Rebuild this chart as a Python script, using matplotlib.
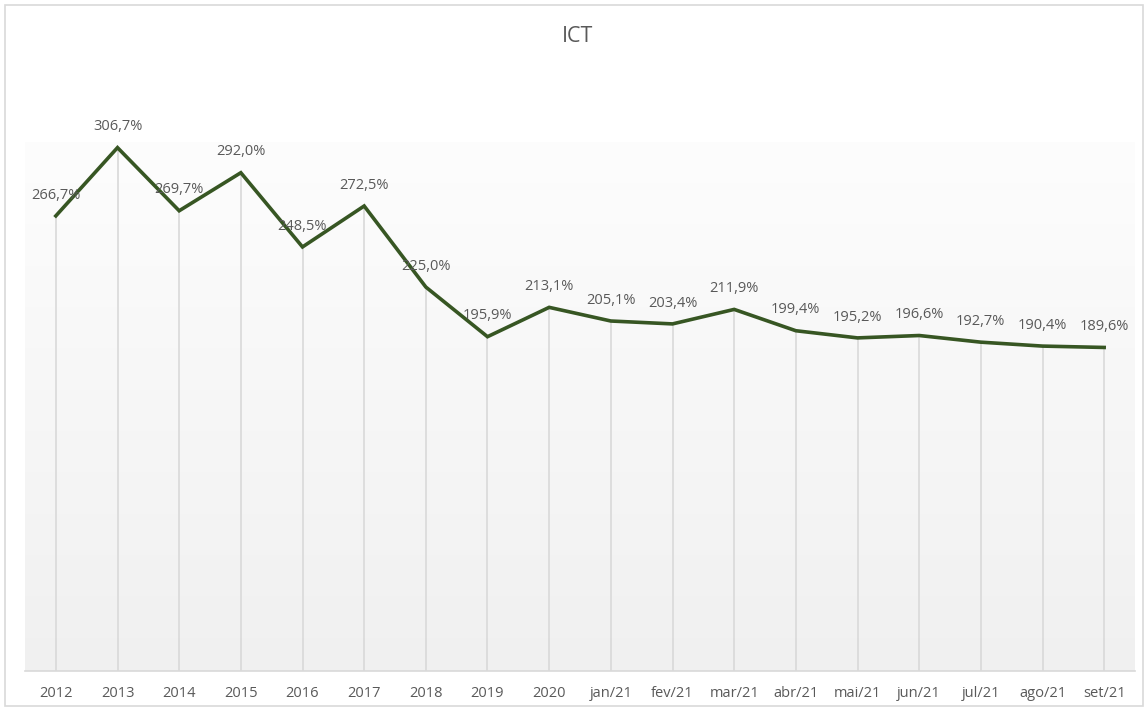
import matplotlib
matplotlib.use("Agg")
import matplotlib.pyplot as plt
import numpy as np
from matplotlib.patches import Rectangle

categories = ["2012", "2013", "2014", "2015", "2016", "2017", "2018", "2019", "2020",
              "jan/21", "fev/21", "mar/21", "abr/21", "mai/21", "jun/21", "jul/21",
              "ago/21", "set/21"]
values = [266.7, 306.7, 269.7, 292.0, 248.5, 272.5, 225.0, 195.9, 213.1,
          205.1, 203.4, 211.9, 199.4, 195.2, 196.6, 192.7, 190.4, 189.6]

plt.rcParams['font.family'] = ['Open Sans', 'DejaVu Sans']
txt = "#595959"

fig = plt.figure(figsize=(11.48, 7.11), dpi=100)
fig.patches.append(Rectangle((5/1148, 5/711), 1138/1148, 701/711, transform=fig.transFigure,
                             fill=False, edgecolor="#d9d9d9", linewidth=1.2))
ax = fig.add_axes([25/1148, 40/711, 1110/1148, 529/711])

n = len(categories)
x = np.arange(n)
ymax = 310
ax.set_xlim(-0.5, n - 0.5)
ax.set_ylim(0, ymax)

# gradient background
grad = np.linspace(0.992, 0.942, 256).reshape(-1, 1)
ax.imshow(np.dstack([grad, grad, grad]), extent=(-0.5, n - 0.5, 0, ymax), aspect='auto',
          origin='upper', zorder=0)

ax.vlines(x, 0, values, color="#d9d9d9", linewidth=1.2, zorder=1)
ax.plot(x, values, color="#375623", linewidth=2.6, zorder=3, solid_joinstyle='miter')

for xi, v in zip(x, values):
    ax.annotate(f"{v:.1f}%".replace(".", ","), (xi, v), xytext=(0, 15), textcoords="offset points",
                ha="center", va="center", fontsize=10.5, color=txt, zorder=4,
                annotation_clip=False)

for s in ["top", "left", "right"]:
    ax.spines[s].set_visible(False)
ax.spines["bottom"].set_color("#d9d9d9")
ax.spines["bottom"].set_linewidth(1.2)
ax.set_yticks([])
ax.set_xticks(x)
ax.set_xticklabels(categories, fontsize=10.5, color=txt)
ax.tick_params(axis="x", length=0, pad=10.5)

fig.text(578/1148, 1 - 37/711, "ICT", ha="center", va="center", fontsize=15.5, color=txt)

fig.savefig("out.png", dpi=100)
